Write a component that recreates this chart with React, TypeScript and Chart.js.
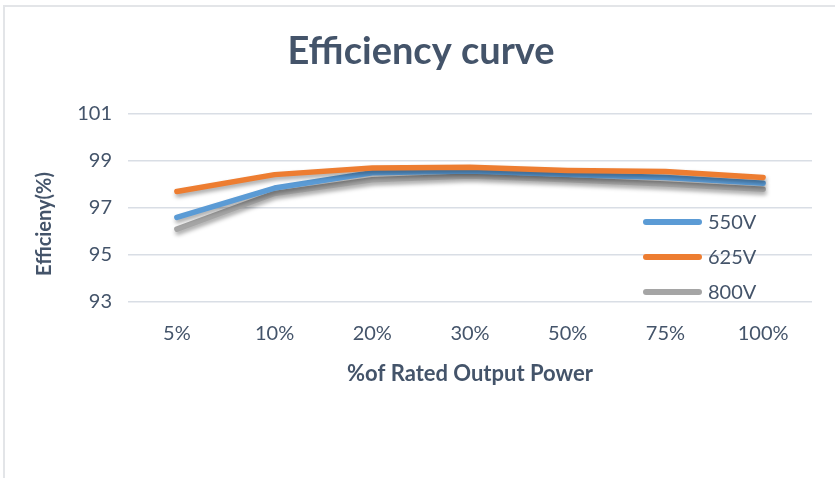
import React, { useEffect, useRef } from "react";
import { Chart, registerables } from "chart.js";

Chart.register(...registerables);

const categories = ["5%", "10%", "20%", "30%", "50%", "75%", "100%"];
const v550 = [96.6, 97.85, 98.5, 98.57, 98.43, 98.3, 98.05];
const v625 = [97.7, 98.42, 98.7, 98.73, 98.6, 98.55, 98.3];
const v800 = [96.1, 97.62, 98.2, 98.36, 98.2, 98.02, 97.8];
const seriesLabels = ["550V", "625V", "800V"];
const seriesColors = ["#5B9BD5", "#ED7D31", "#A5A5A5"];
const yMin = 93;
const yMax = 101;
const yStep = 2;

const FONT = "Lato, 'Open Sans', sans-serif";
const TEXT = "#44546A";

const shadowPlugin = {
  id: "lineShadow",
  beforeDatasetDraw(chart: any) {
    const ctx = chart.ctx;
    ctx.save();
    ctx.shadowColor = "rgba(0,0,0,0.35)";
    ctx.shadowBlur = 4;
    ctx.shadowOffsetX = 1;
    ctx.shadowOffsetY = 3;
  },
  afterDatasetDraw(chart: any) {
    chart.ctx.restore();
  },
};

const overlayPlugin = {
  id: "overlay",
  afterDraw(chart: any) {
    const ctx = chart.ctx;
    const area = chart.chartArea;
    // legend
    const x0 = area.right - 166;
    const y0 = area.top + 108;
    ctx.save();
    seriesLabels.forEach((lab, i) => {
      const y = y0 + i * 35;
      ctx.strokeStyle = seriesColors[i];
      ctx.lineWidth = 6;
      ctx.lineCap = "round";
      ctx.beginPath();
      ctx.moveTo(x0, y);
      ctx.lineTo(x0 + 53, y);
      ctx.stroke();
      ctx.fillStyle = TEXT;
      ctx.font = `20px ${FONT}`;
      ctx.textBaseline = "middle";
      ctx.textAlign = "left";
      ctx.fillText(lab, x0 + 62, y + 1);
    });
    // y axis title
    ctx.translate(45, (area.top + area.bottom) / 2 + 16);
    ctx.rotate(-Math.PI / 2);
    ctx.font = `bold 20px ${FONT}`;
    ctx.textAlign = "center";
    ctx.textBaseline = "middle";
    ctx.fillStyle = TEXT;
    ctx.fillText("Efficieny(%)", 0, 0);
    ctx.restore();
  },
};

export default function App() {
  const ref = useRef<HTMLCanvasElement>(null);

  useEffect(() => {
    document.body.style.margin = "0";
    if (!ref.current) return;
    const chart = new Chart(ref.current, {
      type: "line",
      data: {
        labels: categories,
        datasets: [
          { label: seriesLabels[0], data: v550, borderColor: seriesColors[0], backgroundColor: seriesColors[0], order: 1 },
          { label: seriesLabels[1], data: v625, borderColor: seriesColors[1], backgroundColor: seriesColors[1], order: 0 },
          { label: seriesLabels[2], data: v800, borderColor: seriesColors[2], backgroundColor: seriesColors[2], order: 2 },
        ].map((d) => ({
          ...d,
          borderWidth: 5.5,
          pointRadius: 0,
          pointHoverRadius: 0,
          tension: 0,
          borderCapStyle: "round" as const,
          borderJoinStyle: "round" as const,
          fill: false,
        })),
      },
      options: {
        animation: false,
        responsive: false,
        maintainAspectRatio: false,
        layout: { padding: { left: 30, right: 23, top: 0, bottom: 86 } },
        plugins: {
          legend: { display: false },
          tooltip: { enabled: false },
          title: {
            display: true,
            text: "Efficiency curve",
            color: TEXT,
            font: { family: FONT, size: 38, weight: "bold", lineHeight: 1.2 },
            padding: { top: 29.2, bottom: 39.2 },
          },
        },
        scales: {
          x: {
            offset: true,
            grid: { display: false, drawTicks: false, offset: true },
            border: { display: false },
            ticks: { color: TEXT, font: { family: FONT, size: 20 }, padding: 20, maxRotation: 0 },
            title: {
              display: true,
              text: "%of Rated Output Power",
              color: TEXT,
              font: { family: FONT, size: 22, weight: "bold", lineHeight: 1.2 },
              padding: { top: 0, bottom: 5 },
            },
            afterFit: (s: any) => {
              s.height = 90;
            },
          },
          y: {
            min: yMin,
            max: yMax,
            grid: { color: "#D9DEE5", lineWidth: 1.5, drawTicks: false },
            border: { display: false },
            ticks: { stepSize: yStep, color: TEXT, font: { family: FONT, size: 20 }, padding: 16 },
            afterFit: (s: any) => {
              s.width = 98;
            },
          },
        },
      },
      plugins: [shadowPlugin, overlayPlugin],
    });
    return () => chart.destroy();
  }, []);

  return (
    <div style={{ position: "fixed", left: 0, top: 0, width: 835, height: 478, background: "#fff", overflow: "hidden" }}>
      <div
        style={{
          position: "absolute",
          left: 3,
          top: 5,
          width: 840,
          height: 480,
          borderLeft: "2px solid #E3E5E8",
          borderTop: "2px solid #E3E5E8",
        }}
      />
      <canvas ref={ref} width={835} height={478} style={{ position: "absolute", left: 0, top: 0, width: 835, height: 478 }} />
    </div>
  );
}
